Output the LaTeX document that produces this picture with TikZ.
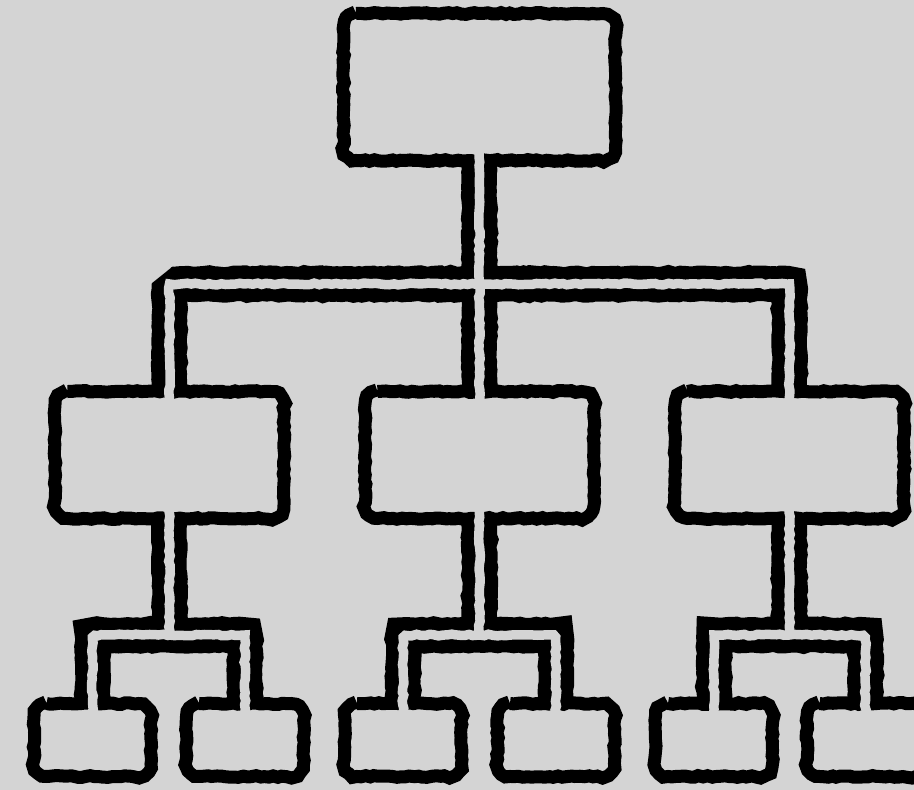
\documentclass[tikz,border=0pt]{standalone}
\usepackage{tikz}
\usetikzlibrary{decorations.pathmorphing}
\definecolor{bg}{RGB}{212,212,212}
\tikzset{
  rough/.style={decorate, decoration={random steps, segment length=2.5pt, amplitude=0.5pt}},
  box/.style={rectangle, inner sep=0pt, outer sep=0pt},
  headbox/.style={box, minimum width=5.44cm, minimum height=2.94cm},
  midbox/.style={box, minimum width=4.58cm, minimum height=2.54cm},
  leafbox/.style={box, minimum width=2.34cm, minimum height=1.46cm},
  boxline/.style={draw=black, line width=0.26cm, rough},
  pipe/.style={draw=black, line width=0.71cm, line join=miter, miter limit=1.5, rough},
  channel/.style={draw=bg, line width=0.19cm, line join=miter, miter limit=1.5, rough}
}
% outline of a box, corners of radius 0.25cm
\newcommand\roughbox[1]{%
  \draw[boxline] ([xshift=0.25cm]#1.north west) -- ([xshift=-0.25cm]#1.north east)
    arc[start angle=90, end angle=0, radius=0.25cm] -- ([yshift=0.25cm]#1.south east)
    arc[start angle=0, end angle=-90, radius=0.25cm] -- ([xshift=0.25cm]#1.south west)
    arc[start angle=270, end angle=180, radius=0.25cm] -- ([yshift=-0.25cm]#1.north west)
    arc[start angle=180, end angle=90, radius=0.25cm] -- cycle;}
\begin{document}
\begin{tikzpicture}[x=0.02cm, y=-0.02cm]
    \pgfmathsetseed{7}
    \path[use as bounding box, fill=bg] (0,0) rectangle (914,790);
    \clip (0,0) rectangle (914,790);
    % head box
    \node[headbox] (top) at (479.5,87) {};
    % second row
    \node[midbox] (midl) at (169.5,455) {};
    \node[midbox] (midc) at (479.5,455) {};
    \node[midbox] (midr) at (789.5,455) {};
    % third row
    \node[leafbox] (leafa) at (92.5,740) {};
    \node[leafbox] (leafb) at (245,740) {};
    \node[leafbox] (leafc) at (403,740) {};
    \node[leafbox] (leafd) at (556,740) {};
    \node[leafbox] (leafe) at (714,740) {};
    \node[leafbox] (leaff) at (865.5,740) {};
    \roughbox{top}
    \roughbox{midl} \roughbox{midc} \roughbox{midr}
    \roughbox{leafa} \roughbox{leafb} \roughbox{leafc}
    \roughbox{leafd} \roughbox{leafe} \roughbox{leaff}
    % branch points
    \coordinate (jtop) at (479.5,284);
    \coordinate (jl) at (169.5,635);
    \coordinate (jc) at (479.5,635);
    \coordinate (jr) at (789.5,635);
    % outer walls of the pipes
    \draw[pipe] (top.south) -- (midc.north);
    \draw[pipe] (midl.north) |- (jtop) -| (midr.north);
    \draw[pipe] (midl.south) -- (jl);
    \draw[pipe] (leafa.north) |- (jl) -| (leafb.north);
    \draw[pipe] (midc.south) -- (jc);
    \draw[pipe] (leafc.north) |- (jc) -| (leafd.north);
    \draw[pipe] (midr.south) -- (jr);
    \draw[pipe] (leafe.north) |- (jr) -| (leaff.north);
    % hollow channels
    \draw[channel] (top.center) -- (midc.center);
    \draw[channel] (midl.center) |- (jtop) -| (midr.center);
    \draw[channel] (midl.center) -- (jl);
    \draw[channel] (leafa.center) |- (jl) -| (leafb.center);
    \draw[channel] (midc.center) -- (jc);
    \draw[channel] (leafc.center) |- (jc) -| (leafd.center);
    \draw[channel] (midr.center) -- (jr);
    \draw[channel] (leafe.center) |- (jr) -| (leaff.center);
\end{tikzpicture}
\end{document}
